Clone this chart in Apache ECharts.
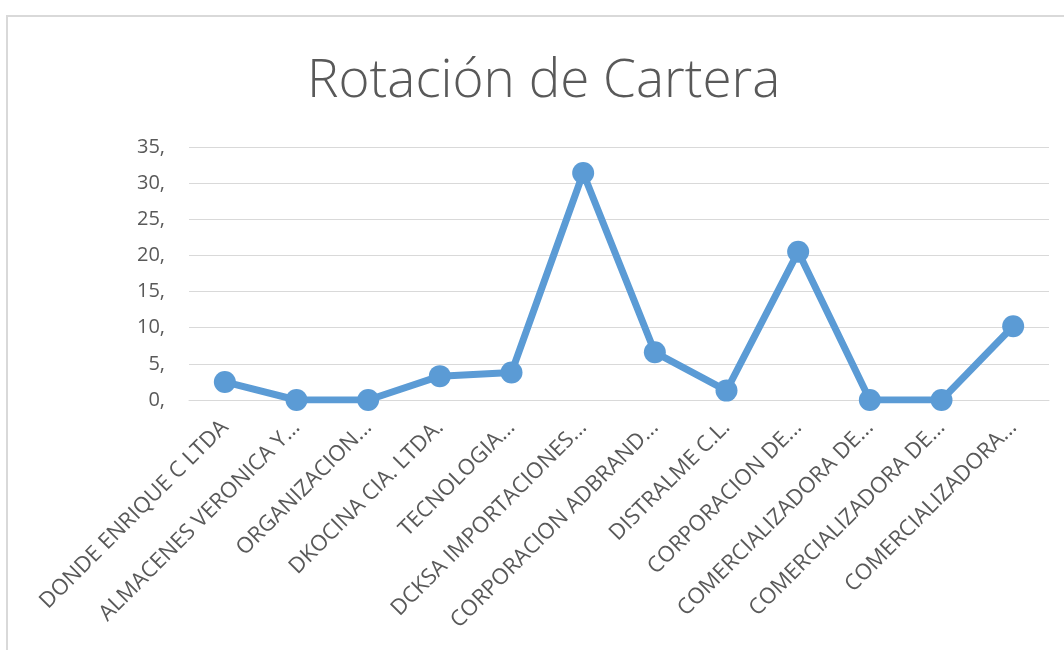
<!DOCTYPE html>
<html>
<head>
<meta charset="utf-8">
<title>Rotación de Cartera</title>
<script src="https://cdn.jsdelivr.net/npm/echarts@6/dist/echarts.min.js"></script>
<style>
  html, body { margin: 0; padding: 0; background: #fff; }
  #chart { width: 1064px; height: 650px; }
</style>
</head>
<body>
<div id="chart"></div>
<script>
// data
var clientes = [
  'DONDE ENRIQUE C LTDA',
  'ALMACENES VERONICA Y...',
  'ORGANIZACION...',
  'DKOCINA CIA. LTDA.',
  'TECNOLOGIA...',
  'DCKSA IMPORTACIONES...',
  'CORPORACION ADBRAND...',
  'DISTRALME C.L.',
  'CORPORACION DE...',
  'COMERCIALIZADORA DE...',
  'COMERCIALIZADORA DE...',
  'COMERCIALIZADORA...'
];
var rotacion = [2.5, 0, 0, 3.3, 3.8, 31.4, 6.6, 1.3, 20.5, 0, 0, 10.2];
var yTicks = [0, 5, 10, 15, 20, 25, 30, 35];

var gris = '#595959';
var azul = '#5B9BD5';
var fuente = 'Open Sans';

var chart = echarts.init(document.getElementById('chart'));
chart.setOption({
  animation: false,
  title: {
    text: 'Rotación de Cartera',
    left: 302,
    top: 50,
    textStyle: { fontFamily: fuente, fontWeight: 300, fontSize: 53, color: gris }
  },
  graphic: [{
    type: 'rect',
    shape: { x: 7, y: 16, width: 1200, height: 800 },
    style: { fill: null, stroke: '#d9d9d9', lineWidth: 2 }
  }],
  grid: { left: 189, right: 15, top: 147, bottom: 250 },
  xAxis: {
    type: 'category',
    data: clientes,
    boundaryGap: true,
    axisLine: { show: true, lineStyle: { color: '#d9d9d9' } },
    axisTick: { show: false },
    axisLabel: {
      rotate: 45,
      interval: 0,
      margin: 24,
      color: gris,
      fontFamily: fuente,
      fontSize: 22
    }
  },
  yAxis: {
    type: 'value',
    min: yTicks[0],
    max: yTicks[yTicks.length - 1],
    interval: 5,
    axisLine: { show: false },
    axisTick: { show: false },
    splitLine: { lineStyle: { color: '#d9d9d9', width: 1 } },
    axisLabel: {
      margin: 24,
      color: gris,
      fontFamily: fuente,
      fontSize: 20,
      formatter: function (v) { return v + ','; }
    }
  },
  series: [{
    type: 'line',
    data: rotacion,
    symbol: 'circle',
    symbolSize: 22,
    lineStyle: { color: azul, width: 7 },
    itemStyle: { color: azul }
  }]
});
</script>
</body>
</html>
